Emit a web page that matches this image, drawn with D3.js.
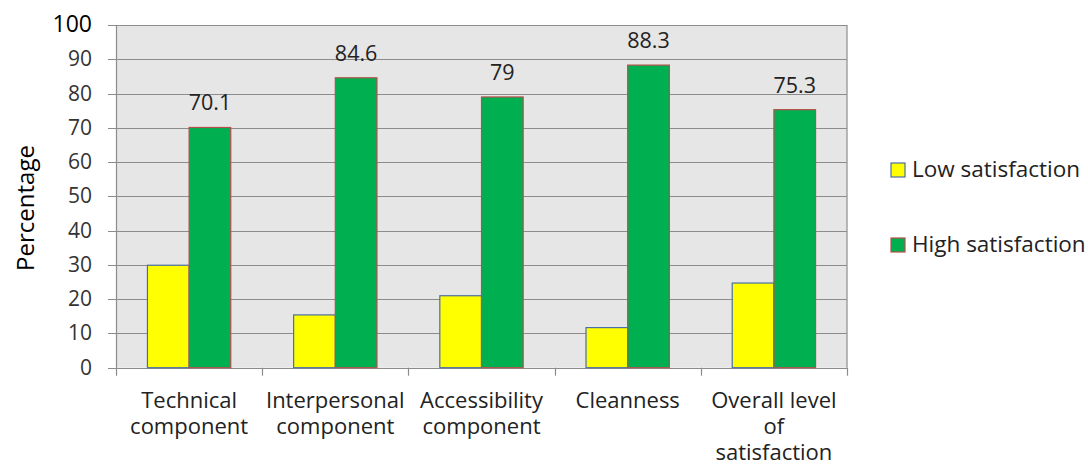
<!DOCTYPE html>
<html>
<head>
<meta charset="utf-8">
<script src="https://cdn.jsdelivr.net/npm/d3@7"></script>
<style>
  body { margin: 0; background: #fff; }
  svg { display: block; font-family: "Open Sans", sans-serif; }
</style>
</head>
<body>
<svg id="chart" width="1088" height="471"></svg>
<script>
const categories = [
  ["Technical", "component"],
  ["Interpersonal", "component"],
  ["Accessibility", "component"],
  ["Cleanness"],
  ["Overall level", "of", "satisfaction"]
];
const lowValues = [29.9, 15.4, 21, 11.7, 24.7];
const highValues = [70.1, 84.6, 79, 88.3, 75.3];
const seriesNames = ["Low satisfaction", "High satisfaction"];
const yTicks = [0, 10, 20, 30, 40, 50, 60, 70, 80, 90, 100];

const svg = d3.select("#chart");
const margin = { left: 116, right: 241, top: 25, bottom: 104 };
const W = 1088, H = 471;
const x0 = d3.scaleBand().domain(d3.range(categories.length))
  .range([margin.left, W - margin.right]).paddingInner(0.43).paddingOuter(0.215);
const xTick = d3.scaleLinear().domain([0, categories.length]).range([margin.left, W - margin.right]);
const y = d3.scaleLinear().domain([0, 100]).range([H - margin.bottom + 0.7, margin.top]);
const x1 = d3.scaleBand().domain([0, 1]).range([0, x0.bandwidth()]);

const fills = ["#ffff00", "#00b050"];
const strokes = ["#4a6fa5", "#b5504b"];
const gridColor = "#8c8c8c";

// plot background
svg.append("rect").attr("x", margin.left).attr("y", y(100))
  .attr("width", xTick(categories.length) - margin.left).attr("height", y(0) - y(100))
  .attr("fill", "#e6e6e6");

// gridlines
svg.append("g").selectAll("line").data(yTicks).join("line")
  .attr("x1", margin.left - 8).attr("x2", xTick(categories.length))
  .attr("y1", d => Math.round(y(d)) + 0.5).attr("y2", d => Math.round(y(d)) + 0.5)
  .attr("stroke", gridColor).attr("stroke-width", 1.2);

// right border
svg.append("line").attr("x1", xTick(categories.length)).attr("x2", xTick(categories.length))
  .attr("y1", y(100)).attr("y2", y(0)).attr("stroke", gridColor).attr("stroke-width", 1.2);

// y axis line
svg.append("line").attr("x1", margin.left + 0.5).attr("x2", margin.left + 0.5)
  .attr("y1", y(100)).attr("y2", y(0) + 8).attr("stroke", gridColor).attr("stroke-width", 1.2);

// x ticks
svg.append("g").selectAll("line").data(d3.range(1, categories.length + 1)).join("line")
  .attr("x1", d => Math.round(xTick(d)) + 0.5).attr("x2", d => Math.round(xTick(d)) + 0.5)
  .attr("y1", y(0)).attr("y2", y(0) + 8).attr("stroke", gridColor).attr("stroke-width", 1.2);

// y tick labels
svg.append("g").selectAll("text").data(yTicks).join("text")
  .attr("x", 92).attr("y", d => y(d) + 7)
  .attr("text-anchor", "end")
  .attr("font-size", d => d === 100 ? 23 : 21)
  .attr("fill", d => d === 100 ? "#000" : "#333")
  .text(d => d);

// bars
const groups = svg.append("g").selectAll("g").data(categories).join("g")
  .attr("transform", (d, i) => `translate(${x0(i)},0)`);
groups.each(function(d, i) {
  const g = d3.select(this);
  [lowValues[i], highValues[i]].forEach((v, s) => {
    g.append("rect")
      .attr("x", x1(s)).attr("width", x1.bandwidth())
      .attr("y", y(v)).attr("height", y(0) - y(v))
      .attr("fill", fills[s]).attr("stroke", strokes[s]).attr("stroke-width", 1.2);
  });
  g.append("text")
    .attr("x", x1(1) + x1.bandwidth() / 2).attr("y", y(highValues[i]) - 17)
    .attr("text-anchor", "middle").attr("font-size", 21.5).attr("fill", "#222")
    .text(highValues[i]);
});

// x labels
const xl = svg.append("g").selectAll("text").data(categories).join("text")
  .attr("text-anchor", "middle").attr("font-size", 22).attr("fill", "#222")
  .attr("transform", (d, i) => `translate(${x0(i) + x0.bandwidth() / 2},408)`);
xl.selectAll("tspan").data(d => d).join("tspan")
  .attr("x", 0).attr("y", (d, j) => j * 26).text(d => d);

// y title
svg.append("text").attr("transform", "translate(34,208) rotate(-90)")
  .attr("text-anchor", "middle").attr("font-size", 24).attr("fill", "#000")
  .text("Percentage");

// legend
const legY = [170, 245];
const leg = svg.append("g").selectAll("g").data(seriesNames).join("g")
  .attr("transform", (d, i) => `translate(891,${legY[i]})`);
leg.append("rect").attr("x", 0).attr("y", -7).attr("width", 14).attr("height", 14)
  .attr("fill", (d, i) => fills[i]).attr("stroke", (d, i) => strokes[i]).attr("stroke-width", 1.2);
leg.append("text").attr("x", 21).attr("y", 7).attr("font-size", 22.5).attr("fill", "#222")
  .text(d => d);
</script>
</body>
</html>
